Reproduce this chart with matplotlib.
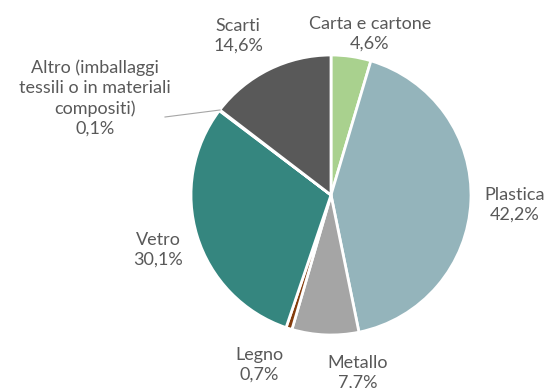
import matplotlib.pyplot as plt

# Composizione dei rifiuti di imballaggio (%)
categorie = ['Carta e cartone', 'Plastica', 'Metallo', 'Legno', 'Vetro',
             'Altro (imballaggi\ntessili o in materiali\ncompositi)', 'Scarti']
quote = [4.6, 42.2, 7.7, 0.7, 30.1, 0.1, 14.6]
colori = ['#A9D18E', '#94B4BB', '#A5A5A5', '#843C0C', '#35867F', '#4472C4', '#595959']

# posizioni delle etichette (centro del blocco di testo, in pixel)
pos_etichette = [(370, 354), (515, 183), (358, 15), (259, 23), (158, 138),
                 (95, 290), (238, 352)]

fig = plt.figure(figsize=(5.5, 3.88), dpi=100)
ax = fig.add_axes([0, 0, 1, 1])

ax.pie(quote, colors=colori, startangle=90, counterclock=False,
       center=(331, 193), radius=140,
       wedgeprops=dict(edgecolor='white', linewidth=2))

# pie() reimposta i limiti: li fissiamo dopo
ax.set_xlim(0, 550)
ax.set_ylim(0, 388)
ax.set_aspect('equal')
ax.axis('off')

for nome, q, (x, y) in zip(categorie, quote, pos_etichette):
    testo = f"{nome}\n{q:.1f}%".replace('.', ',')
    ax.text(x, y, testo, ha='center', va='center', fontsize=13,
            color='#595959', family='Lato', linespacing=1.3)

# linea guida per la voce "Altro"
ax.plot([165, 220], [271, 278], color='#A6A6A6', linewidth=0.8)

fig.savefig('out.png', dpi=100)
